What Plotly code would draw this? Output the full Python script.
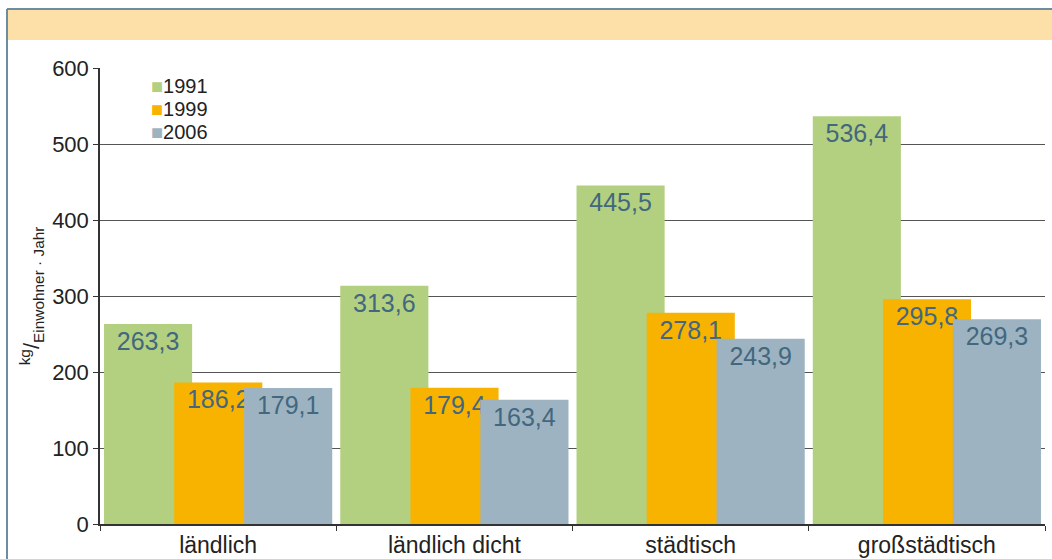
import plotly.graph_objects as go

categories = ["ländlich", "ländlich dicht", "städtisch", "großstädtisch"]
series_names = ["1991", "1999", "2006"]
values_1991 = [263.3, 313.6, 445.5, 536.4]
values_1999 = [186.2, 179.4, 278.1, 295.8]
values_2006 = [179.1, 163.4, 243.9, 269.3]
y_ticks = [0, 100, 200, 300, 400, 500, 600]

colors = ["#B3D081", "#F8B200", "#9DB3C1"]
offsets = [-0.483, -0.186, 0.110]
bar_w = 0.373

fig = go.Figure()
for name, vals, col, off in zip(series_names, [values_1991, values_1999, values_2006], colors, offsets):
    fig.add_trace(go.Bar(
        x=categories, y=vals, name=name,
        marker=dict(color=col, line=dict(width=0)),
        offset=off, width=bar_w,
        text=[f"{v:.1f}".replace(".", ",") for v in vals],
        textposition="inside", insidetextanchor="end",
        textfont=dict(family="Liberation Sans, Arial", size=25, color="#42677F"),
        textangle=0, cliponaxis=False, showlegend=False,
    ))

W, H = 1052, 559
L, R, T, B = 100, 7, 68, 35
pw, ph = W - L - R, H - T - B

def px(p):
    return (p - L) / pw

def py(p):
    return (H - B - p) / ph

# header band
fig.add_shape(type="rect", xref="paper", yref="paper", x0=px(7), x1=px(1052), y0=py(40), y1=py(10),
              fillcolor="#FDE0A8", line=dict(width=0), layer="below")
# frame lines
fig.add_shape(type="line", xref="paper", yref="paper", x0=px(7), x1=px(1052), y0=py(9), y1=py(9),
              line=dict(color="#6E8CA0", width=2))
fig.add_shape(type="line", xref="paper", yref="paper", x0=px(7), x1=px(7), y0=py(9), y1=py(559),
              line=dict(color="#6E8CA0", width=2))

# legend (square swatch + label) built from series names and colours
for i, (name, col) in enumerate(zip(series_names, colors)):
    fig.add_annotation(
        xref="paper", yref="paper", x=px(149), y=py(86 + 23 * i),
        xanchor="left", yanchor="middle", showarrow=False,
        text=f"<span style='color:{col}'>■</span>{name}",
        font=dict(family="Liberation Sans, Arial", size=20, color="#222222"),
    )

fig.update_layout(
    width=W, height=H,
    margin=dict(l=L, r=R, t=T, b=B, autoexpand=False),
    barmode="overlay",
    paper_bgcolor="white", plot_bgcolor="white",
    font=dict(family="Liberation Sans, Arial", color="#222222"),
    showlegend=False,
    xaxis=dict(showline=True, linecolor="#333333", linewidth=1.5, ticks="outside",
               tickson="boundaries", ticklen=5, tickcolor="#333333",
               tickfont=dict(size=23, color="#222222"), showgrid=False,
               range=[-0.5, 3.5]),
    yaxis=dict(range=[0, 600], tickvals=y_ticks, showline=True, linecolor="#333333", linewidth=1.5,
               ticks="outside", ticklen=5, tickcolor="#333333",
               tickfont=dict(size=22, color="#222222"), showgrid=True, gridcolor="#555555",
               gridwidth=1.2, zeroline=False,
               title=dict(text="<sup>kg</sup>/<sub>Einwohner · Jahr</sub>",
                          font=dict(size=22, color="#222222"), standoff=6)),
)

fig.write_html("out.html", config={"displayModeBar": False},
               post_script="document.body.style.margin='0';document.body.style.padding='0';")
